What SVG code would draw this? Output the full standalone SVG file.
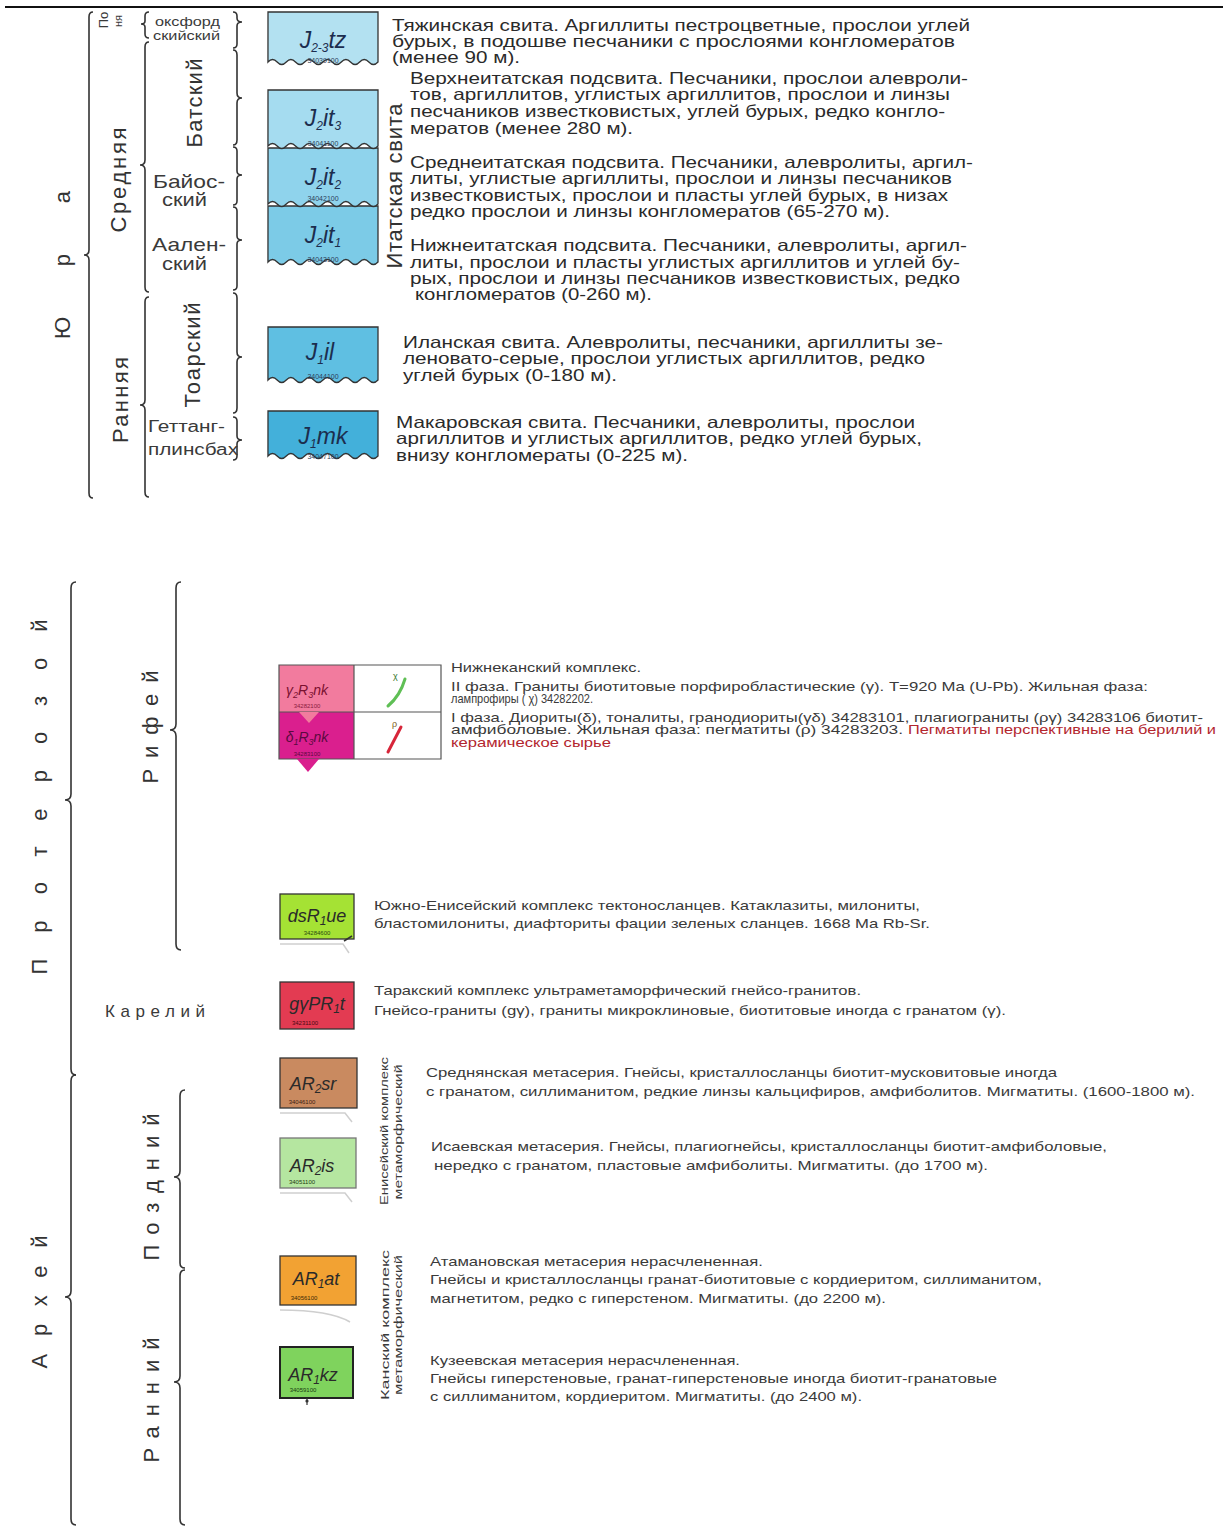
<svg xmlns="http://www.w3.org/2000/svg" width="1223" height="1528" viewBox="0 0 1223 1528">
<style>
text{font-family:"Liberation Sans",Arial,sans-serif}
.d{font-size:16.5px;fill:#2a2a2a}
.s{font-size:13px;fill:#3a3a3a}
.red{fill:#b3262e}
.vt{font-size:22px;fill:#333}
.st{fill:#3a3a3a}
.br{fill:none;stroke:#333;stroke-width:1.6}
.bx{stroke:#333;stroke-width:1.3}
.jl{font-size:23px;font-style:italic;fill:#1c2d4e;text-anchor:middle}
.al{font-size:18px;font-style:italic;fill:#2a2a2a;text-anchor:middle}
.sub{font-size:12px}
.code{font-size:7px;fill:#2c3e5a;text-anchor:middle}
.sh{fill:none;stroke:#cfcfcf;stroke-width:1.5}
</style>
<line x1="5" y1="7" x2="1223" y2="7" stroke="#111" stroke-width="2"/>

<g id="connectors">
<path class="br" d="M93,12 Q89,12 89,17 L89,250 Q89,255 84,255 Q89,255 89,260 L89,493 Q89,498 93,498"/>
<path class="br" d="M149,42 Q145,42 145,47 L145,160 Q145,165 140,165 Q145,165 145,170 L145,287 Q145,292 149,292"/>
<path class="br" d="M149,12 Q145,12 145,16 L145,21 Q145,24 141,24 Q145,24 145,27 L145,34 Q145,38 149,38"/>
<path class="br" d="M149,297 Q145,297 145,302 L145,400 Q145,405 140,405 Q145,405 145,410 L145,492 Q145,497 149,497"/>
<path class="br" d="M76,582 Q71,582 71,588 L71,794 Q71,800 65,800 Q71,800 71,806 L71,1069 Q71,1075 76,1075"/>
<path class="br" d="M76,1075 Q71,1075 71,1081 L71,1291 Q71,1297 65,1297 Q71,1297 71,1303 L71,1519 Q71,1525 76,1525"/>
<path class="br" d="M181,582 Q176,582 176,588 L176,724 Q176,730 170,730 Q176,730 176,736 L176,944 Q176,950 181,950"/>
<path class="br" d="M185,1090 Q180,1090 180,1096 L180,1171 Q180,1177 174,1177 Q180,1177 180,1183 L180,1263 Q180,1268 185,1268"/>
<path class="br" d="M185,1270 Q180,1270 180,1276 L180,1376 Q180,1382 174,1382 Q180,1382 180,1388 L180,1519 Q180,1525 185,1525"/>
<path class="br" d="M233,12 Q237,12 237,16 L237,18 Q237,22 242,22 Q237,22 237,26 L237,44 Q237,48 233,48"/>
<path class="br" d="M233,50 Q237,50 237,55 L237,93 Q237,98 242,98 Q237,98 237,103 L237,140 Q237,145 233,145"/>
<path class="br" d="M233,147 Q237,147 237,151 L237,171 Q237,175 242,175 Q237,175 237,179 L237,201 Q237,205 233,205"/>
<path class="br" d="M233,207 Q237,207 237,211 L237,236 Q237,240 242,240 Q237,240 237,244 L237,286 Q237,290 233,290"/>
<path class="br" d="M233,293 Q237,293 237,298 L237,352 Q237,357 242,357 Q237,357 237,362 L237,408 Q237,413 233,413"/>
<path class="br" d="M233,417 Q237,417 237,421 L237,436 Q237,440 242,440 Q237,440 237,444 L237,456 Q237,460 233,460"/>
</g>

<g id="scale-labels">
<text class="vt" font-size="24" text-anchor="middle" textLength="148" lengthAdjust="spacing" transform="translate(70,265) rotate(-90)">Юра</text>
<text class="vt" text-anchor="middle" textLength="105" transform="translate(126,180) rotate(-90)">Средняя</text>
<text class="vt" text-anchor="middle" textLength="86" transform="translate(128,400) rotate(-90)">Ранняя</text>
<text class="st" font-size="13" text-anchor="middle" transform="translate(108,20) rotate(-90)">По</text>
<text class="st" font-size="11" text-anchor="middle" transform="translate(122,21) rotate(-90)">ня</text>
<text class="st" font-size="13" x="155" y="26" textLength="65" lengthAdjust="spacingAndGlyphs">оксфорд</text>
<text class="st" font-size="13" x="153" y="40" textLength="67" lengthAdjust="spacingAndGlyphs">скийский</text>
<text class="vt" font-size="20" text-anchor="middle" textLength="89" transform="translate(202,103) rotate(-90)">Батский</text>
<text class="st" font-size="19" x="153" y="188" textLength="72" lengthAdjust="spacingAndGlyphs">Байос-</text>
<text class="st" font-size="19" x="162" y="206" textLength="45" lengthAdjust="spacingAndGlyphs">ский</text>
<text class="st" font-size="19" x="152" y="251" textLength="74" lengthAdjust="spacingAndGlyphs">Аален-</text>
<text class="st" font-size="19" x="162" y="270" textLength="45" lengthAdjust="spacingAndGlyphs">ский</text>
<text class="vt" font-size="21" text-anchor="middle" textLength="105" transform="translate(200,355) rotate(-90)">Тоарский</text>
<text class="st" font-size="16" x="148" y="432" textLength="77" lengthAdjust="spacingAndGlyphs">Геттанг-</text>
<text class="st" font-size="16" x="148" y="455" textLength="90" lengthAdjust="spacingAndGlyphs">плинсбах</text>
<text class="vt" font-size="19" text-anchor="middle" textLength="165" transform="translate(402,186) rotate(-90)">Итатская свита</text>

<text class="vt" text-anchor="middle" textLength="355" lengthAdjust="spacing" transform="translate(47,797) rotate(-90)">Протерозой</text>
<text class="vt" text-anchor="middle" textLength="113" lengthAdjust="spacing" transform="translate(158,727) rotate(-90)">Рифей</text>
<text class="st" font-size="17" x="105" y="1017" textLength="100" lengthAdjust="spacing">Карелий</text>
<text class="vt" text-anchor="middle" textLength="133" lengthAdjust="spacing" transform="translate(47,1302) rotate(-90)">Архей</text>
<text class="vt" font-size="20" text-anchor="middle" textLength="147" lengthAdjust="spacing" transform="translate(159,1187) rotate(-90)">Поздний</text>
<text class="vt" font-size="20" text-anchor="middle" textLength="125" lengthAdjust="spacing" transform="translate(159,1400) rotate(-90)">Ранний</text>
<text class="st" font-size="11" text-anchor="middle" textLength="148" lengthAdjust="spacingAndGlyphs" transform="translate(388,1131) rotate(-90)">Енисейский комплекс</text>
<text class="st" font-size="11" text-anchor="middle" textLength="135" lengthAdjust="spacingAndGlyphs" transform="translate(402,1132) rotate(-90)">метаморфический</text>
<text class="st" font-size="11" text-anchor="middle" textLength="150" lengthAdjust="spacingAndGlyphs" transform="translate(389,1325) rotate(-90)">Канский комплекс</text>
<text class="st" font-size="11" text-anchor="middle" textLength="140" lengthAdjust="spacingAndGlyphs" transform="translate(402,1325) rotate(-90)">метаморфический</text>
</g>

<g id="J23tz">
<path class="bx" fill="#b3e1f1" d="M268,12 H378 V62 q-4.58,5,-9.17,0 t-9.17,0 t-9.17,0 t-9.17,0 t-9.17,0 t-9.17,0 t-9.17,0 t-9.17,0 t-9.17,0 t-9.17,0 t-9.17,0 t-9.17,0 Z"/>
<text class="jl" x="323" y="48">J<tspan class="sub" dy="4">2-3</tspan><tspan dy="-4">tz</tspan></text>
<text class="code" x="323" y="63">34039100</text>
<text class="d" x="392" y="31" textLength="578" lengthAdjust="spacingAndGlyphs">Тяжинская свита. Аргиллиты пестроцветные, прослои углей</text>
<text class="d" x="392" y="47" textLength="563" lengthAdjust="spacingAndGlyphs">бурых,  в подошве песчаники с прослоями  конгломератов</text>
<text class="d" x="392" y="63" textLength="128" lengthAdjust="spacingAndGlyphs">(менее 90 м).</text>
</g>

<g id="J2it1">
<path class="bx" fill="#7ccbe7" d="M268,206 H378 V262 q-4.58,5,-9.17,0 t-9.17,0 t-9.17,0 t-9.17,0 t-9.17,0 t-9.17,0 t-9.17,0 t-9.17,0 t-9.17,0 t-9.17,0 t-9.17,0 t-9.17,0 Z"/>
<text class="jl" x="323" y="243">J<tspan class="sub" dy="4">2</tspan><tspan dy="-4">it</tspan><tspan class="sub" dy="4">1</tspan></text>
<text class="code" x="323" y="262">34043100</text>
<text class="d" x="410" y="251" textLength="557" lengthAdjust="spacingAndGlyphs">Нижнеитатская подсвита. Песчаники, алевролиты, аргил-</text>
<text class="d" x="410" y="268" textLength="550" lengthAdjust="spacingAndGlyphs">литы, прослои и пласты углистых аргиллитов и углей бу-</text>
<text class="d" x="410" y="284" textLength="550" lengthAdjust="spacingAndGlyphs">рых, прослои и линзы песчаников известковистых, редко</text>
<text class="d" x="415" y="300" textLength="237" lengthAdjust="spacingAndGlyphs">конгломератов (0-260 м).</text>
</g>

<g id="J2it2">
<path class="bx" fill="#8fd3ec" d="M268,148 H378 V204 q-4.58,5,-9.17,0 t-9.17,0 t-9.17,0 t-9.17,0 t-9.17,0 t-9.17,0 t-9.17,0 t-9.17,0 t-9.17,0 t-9.17,0 t-9.17,0 t-9.17,0 Z"/>
<text class="jl" x="323" y="185">J<tspan class="sub" dy="4">2</tspan><tspan dy="-4">it</tspan><tspan class="sub" dy="4">2</tspan></text>
<text class="code" x="323" y="201">34042100</text>
<text class="d" x="410" y="168" textLength="563" lengthAdjust="spacingAndGlyphs">Среднеитатская подсвита. Песчаники, алевролиты, аргил-</text>
<text class="d" x="410" y="184" textLength="542" lengthAdjust="spacingAndGlyphs">литы, углистые аргиллиты, прослои и линзы песчаников</text>
<text class="d" x="410" y="201" textLength="538" lengthAdjust="spacingAndGlyphs">известковистых, прослои и пласты углей бурых, в низах</text>
<text class="d" x="410" y="217" textLength="480" lengthAdjust="spacingAndGlyphs">редко прослои и линзы конгломератов (65-270 м).</text>
</g>

<g id="J2it3">
<path class="bx" fill="#a5dcf0" d="M268,90 H378 V146 q-4.58,5,-9.17,0 t-9.17,0 t-9.17,0 t-9.17,0 t-9.17,0 t-9.17,0 t-9.17,0 t-9.17,0 t-9.17,0 t-9.17,0 t-9.17,0 t-9.17,0 Z"/>
<text class="jl" x="323" y="126">J<tspan class="sub" dy="4">2</tspan><tspan dy="-4">it</tspan><tspan class="sub" dy="4">3</tspan></text>
<text class="code" x="323" y="146">34041100</text>
<text class="d" x="410" y="84" textLength="558" lengthAdjust="spacingAndGlyphs">Верхнеитатская подсвита. Песчаники, прослои алевроли-</text>
<text class="d" x="410" y="100" textLength="540" lengthAdjust="spacingAndGlyphs">тов, аргиллитов, углистых аргиллитов, прослои и линзы</text>
<text class="d" x="410" y="117" textLength="535" lengthAdjust="spacingAndGlyphs">песчаников известковистых, углей бурых, редко конгло-</text>
<text class="d" x="410" y="134" textLength="223" lengthAdjust="spacingAndGlyphs">мератов (менее 280 м).</text>
</g>

<g id="J1il">
<path class="bx" fill="#5fbfe2" d="M268,327 H378 V380 q-4.58,5,-9.17,0 t-9.17,0 t-9.17,0 t-9.17,0 t-9.17,0 t-9.17,0 t-9.17,0 t-9.17,0 t-9.17,0 t-9.17,0 t-9.17,0 t-9.17,0 Z"/>
<text class="jl" x="320" y="360">J<tspan class="sub" dy="4">1</tspan><tspan dy="-4">il</tspan></text>
<text class="code" x="323" y="379">34044100</text>
<text class="d" x="403" y="348" textLength="540" lengthAdjust="spacingAndGlyphs">Иланская свита. Алевролиты, песчаники, аргиллиты зе-</text>
<text class="d" x="403" y="364" textLength="522" lengthAdjust="spacingAndGlyphs">леновато-серые, прослои углистых аргиллитов, редко</text>
<text class="d" x="403" y="381" textLength="214" lengthAdjust="spacingAndGlyphs">углей бурых (0-180 м).</text>
</g>

<g id="J1mk">
<path class="bx" fill="#43b0da" d="M268,411 H378 V456 q-4.58,5,-9.17,0 t-9.17,0 t-9.17,0 t-9.17,0 t-9.17,0 t-9.17,0 t-9.17,0 t-9.17,0 t-9.17,0 t-9.17,0 t-9.17,0 t-9.17,0 Z"/>
<text class="jl" x="323" y="444">J<tspan class="sub" dy="4">1</tspan><tspan dy="-4">mk</tspan></text>
<text class="code" x="323" y="459">34047100</text>
<text class="d" x="396" y="428" textLength="519" lengthAdjust="spacingAndGlyphs">Макаровская свита. Песчаники, алевролиты, прослои</text>
<text class="d" x="396" y="444" textLength="526" lengthAdjust="spacingAndGlyphs">аргиллитов и углистых аргиллитов, редко углей бурых,</text>
<text class="d" x="396" y="461" textLength="292" lengthAdjust="spacingAndGlyphs">внизу конгломераты (0-225 м).</text>
</g>

<g id="Nizhnekansky">
<rect x="279" y="665" width="75" height="47" fill="#f27b9e"/>
<rect x="279" y="712" width="75" height="47" fill="#da1f8e"/>
<rect x="354" y="665" width="87" height="94" fill="#fff"/>
<path d="M279,665 H441 V759 H279 Z M279,712 H441 M354,665 V759" fill="none" stroke="#555" stroke-width="1.2"/>
<path d="M299,712 L319,712 L309,723 Z" fill="#f27b9e"/>
<path d="M297,759 L319,759 L308,772 Z" fill="#da1f8e"/>
<text x="307" y="695" font-size="14" font-style="italic" fill="#7a1030" text-anchor="middle">γ<tspan font-size="9" dy="3">2</tspan><tspan dy="-3">R</tspan><tspan font-size="9" dy="3">3</tspan><tspan dy="-3">nk</tspan></text>
<text x="307" y="708" font-size="6" fill="#8a2040" text-anchor="middle">34282100</text>
<text x="307" y="742" font-size="14" font-style="italic" fill="#5a0a40" text-anchor="middle">δ<tspan font-size="9" dy="3">1</tspan><tspan dy="-3">R</tspan><tspan font-size="9" dy="3">3</tspan><tspan dy="-3">nk</tspan></text>
<text x="307" y="756" font-size="6" fill="#5a0a40" text-anchor="middle">34283100</text>
<path d="M388,706 Q400,696 405,679" fill="none" stroke="#5fbf55" stroke-width="3" stroke-linecap="round"/>
<text x="393" y="679" font-size="9" fill="#3a7a30">χ</text>
<path d="M388,752 L401,727" fill="none" stroke="#d7263a" stroke-width="3" stroke-linecap="round"/>
<text x="392" y="727" font-size="9" fill="#7a5a20">ρ</text>
<text class="s" x="451" y="672" textLength="190" lengthAdjust="spacingAndGlyphs">Нижнеканский комплекс.</text>
<text class="s" x="451" y="691" textLength="697" lengthAdjust="spacingAndGlyphs">II фаза. Граниты биотитовые порфиробластические (γ). T=920 Ma (U-Pb). Жильная фаза:</text>
<text class="s" x="451" y="703" textLength="142" lengthAdjust="spacingAndGlyphs">лампрофиры ( χ) 34282202.</text>
<text class="s" x="451" y="722" textLength="752" lengthAdjust="spacingAndGlyphs">I фаза. Диориты(δ), тоналиты, гранодиориты(γδ) 34283101, плагиограниты (ργ) 34283106 биотит-</text>
<text class="s" x="451" y="734" textLength="452" lengthAdjust="spacingAndGlyphs">амфиболовые. Жильная фаза:   пегматиты (ρ) 34283203.</text>
<text class="s red" x="908" y="734" textLength="308" lengthAdjust="spacingAndGlyphs">Пегматиты перспективные на берилий и</text>
<text class="s red" x="451" y="747" textLength="160" lengthAdjust="spacingAndGlyphs">керамическое сырье</text>
</g>

<g id="dsR1ue">
<path class="sh" d="M280,944 H343 L349,953"/>
<rect class="bx" x="280" y="894" width="74" height="45" fill="#a5e234"/>
<path d="M344,941 L352,936" stroke="#333" stroke-width="1.5"/>
<text class="al" x="317" y="922">dsR<tspan class="sub" dy="3">1</tspan><tspan dy="-3">ue</tspan></text>
<text x="317" y="935" font-size="6" fill="#2a4a10" text-anchor="middle">34284600</text>
<text class="s" x="374" y="910" textLength="546" lengthAdjust="spacingAndGlyphs">Южно-Енисейский комплекс тектоносланцев. Катаклазиты, милониты,</text>
<text class="s" x="374" y="928" textLength="556" lengthAdjust="spacingAndGlyphs">бластомилониты, диафториты фации зеленых сланцев. 1668 Ma Rb-Sr.</text>
</g>

<g id="gPR1t">
<rect class="bx" x="280" y="982" width="74" height="47" fill="#e33b52"/>
<text class="al" x="317" y="1010" fill="#4a0a14">gγPR<tspan class="sub" dy="3">1</tspan><tspan dy="-3">t</tspan></text>
<text x="305" y="1025" font-size="6" fill="#4a0a14" text-anchor="middle">34231100</text>
<text class="s" x="374" y="995" textLength="487" lengthAdjust="spacingAndGlyphs">Таракский комплекс ультраметаморфический гнейсо-гранитов.</text>
<text class="s" x="374" y="1015" textLength="632" lengthAdjust="spacingAndGlyphs">Гнейсо-граниты (gγ), граниты  микроклиновые, биотитовые иногда с гранатом (γ).</text>
</g>

<g id="AR2sr">
<path class="sh" d="M280,1113 H345 L352,1122"/>
<rect class="bx" x="280" y="1058" width="77" height="50" fill="#c98a60"/>
<text class="al" x="313" y="1090">AR<tspan class="sub" dy="3">2</tspan><tspan dy="-3">sr</tspan></text>
<text x="302" y="1104" font-size="6" fill="#3a2010" text-anchor="middle">34046100</text>
<text class="s" x="426" y="1077" textLength="631" lengthAdjust="spacingAndGlyphs">Среднянская метасерия. Гнейсы, кристаллосланцы биотит-мусковитовые иногда</text>
<text class="s" x="426" y="1096" textLength="769" lengthAdjust="spacingAndGlyphs">с гранатом, силлиманитом, редкие линзы кальцифиров, амфиболитов. Мигматиты.  (1600-1800 м).</text>
</g>

<g id="AR2is">
<path class="sh" d="M280,1193 H345 L352,1202"/>
<rect x="280" y="1138" width="76" height="50" fill="#b5e6a0" stroke="#777" stroke-width="1.3"/>
<text class="al" x="312" y="1172">AR<tspan class="sub" dy="3">2</tspan><tspan dy="-3">is</tspan></text>
<text x="302" y="1184" font-size="6" fill="#1e3a10" text-anchor="middle">34051100</text>
<text class="s" x="431" y="1151" textLength="676" lengthAdjust="spacingAndGlyphs">Исаевская метасерия. Гнейсы, плагиогнейсы, кристаллосланцы биотит-амфиболовые,</text>
<text class="s" x="434" y="1170" textLength="554" lengthAdjust="spacingAndGlyphs">нередко с гранатом, пластовые амфиболиты. Мигматиты.  (до 1700 м).</text>
</g>

<g id="AR1at">
<path class="sh" d="M280,1310 Q330,1310 350,1322"/>
<rect class="bx" x="280" y="1256" width="76" height="49" fill="#f2a233"/>
<text class="al" x="316" y="1285">AR<tspan class="sub" dy="3">1</tspan><tspan dy="-3">at</tspan></text>
<text x="304" y="1300" font-size="6" fill="#3a2a08" text-anchor="middle">34056100</text>
<text class="s" x="430" y="1266" textLength="333" lengthAdjust="spacingAndGlyphs">Атамановская метасерия нерасчлененная.</text>
<text class="s" x="430" y="1284" textLength="612" lengthAdjust="spacingAndGlyphs">Гнейсы и кристаллосланцы гранат-биотитовые с кордиеритом, силлиманитом,</text>
<text class="s" x="430" y="1303" textLength="456" lengthAdjust="spacingAndGlyphs">магнетитом, редко с гиперстеном. Мигматиты. (до 2200 м).</text>
</g>

<g id="AR1kz">
<rect x="280" y="1347" width="73" height="51" fill="#7fd35d" stroke="#222" stroke-width="2"/>
<path d="M307,1398 V1405" stroke="#333" stroke-width="1.2"/>
<circle cx="307" cy="1401" r="1.6" fill="#333"/>
<text class="al" x="313" y="1381" fill="#163a10">AR<tspan class="sub" dy="3">1</tspan><tspan dy="-3">kz</tspan></text>
<text x="303" y="1392" font-size="6" fill="#163a10" text-anchor="middle">34059100</text>
<text class="s" x="430" y="1365" textLength="310" lengthAdjust="spacingAndGlyphs">Кузеевская метасерия нерасчлененная.</text>
<text class="s" x="430" y="1383" textLength="567" lengthAdjust="spacingAndGlyphs">Гнейсы гиперстеновые, гранат-гиперстеновые иногда биотит-гранатовые</text>
<text class="s" x="430" y="1401" textLength="432" lengthAdjust="spacingAndGlyphs">с силлиманитом, кордиеритом. Мигматиты. (до 2400 м).</text>
</g>
</svg>
